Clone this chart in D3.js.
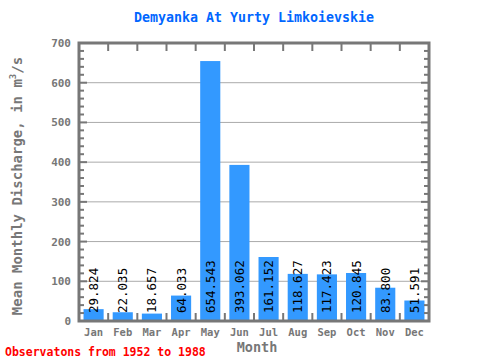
<!DOCTYPE html>
<html><head><meta charset="utf-8">
<script src="https://cdn.jsdelivr.net/npm/d3@7/dist/d3.min.js"></script>
<style>body{margin:0;background:#fff}svg{display:block}</style>
</head><body>
<svg id="c" width="480" height="360"></svg>
<script>
const months = ["Jan","Feb","Mar","Apr","May","Jun","Jul","Aug","Sep","Oct","Nov","Dec"];
const discharge = [29.824,22.035,18.657,64.033,654.543,393.062,161.152,118.627,117.423,120.845,83.800,51.591];
const labels = ["29.824","22.035","18.657","64.033","654.543","393.062","161.152","118.627","117.423","120.845","83.800","51.591"];
const yTicks = [0,100,200,300,400,500,600,700];
const titleText = "Demyanka At Yurty Limkoievskie";
const footText = "Observatons from 1952 to 1988";

const svg = d3.select("#c");
const L=79, R=429, T=43, B=321;
const mono = "'DejaVu Sans Mono','Liberation Mono',monospace";
const axisCol = "#777";

const x = d3.scaleBand().domain(months).range([L,R]).paddingInner(0.31).paddingOuter(0.155);
const y = d3.scaleLinear().domain([0,700]).range([B,T]);

// gridlines
svg.append("g").selectAll("line").data(yTicks.slice(1,-1)).join("line")
  .attr("x1",L).attr("x2",R).attr("y1",d=>y(d)).attr("y2",d=>y(d))
  .attr("stroke","#aaa").attr("stroke-width",1);

// bars
svg.append("g").selectAll("rect").data(discharge).join("rect")
  .attr("x",(d,i)=>x(months[i])).attr("width",x.bandwidth())
  .attr("y",d=>y(d)).attr("height",d=>B-y(d))
  .attr("fill","#3399ff");

// value labels
svg.append("g").selectAll("text").data(labels).join("text")
  .attr("transform",(d,i)=>`translate(${x(months[i])+x.bandwidth()/2+4.5},${B-8}) rotate(-90)`)
  .attr("font-family",mono).attr("font-size",12.5).attr("fill","#000")
  .text(d=>d);

// frame
svg.append("rect").attr("x",L).attr("y",T).attr("width",R-L).attr("height",B-T)
  .attr("fill","none").attr("stroke",axisCol).attr("stroke-width",3);

// minor/major y ticks both sides
const minor = d3.range(0,701,20);
const yt = svg.append("g").attr("stroke",axisCol).attr("stroke-width",2);
minor.forEach(v=>{
  const len = v%100===0 ? 8 : 5;
  yt.append("line").attr("x1",L).attr("x2",L+len).attr("y1",y(v)).attr("y2",y(v));
  yt.append("line").attr("x1",R).attr("x2",R-len).attr("y1",y(v)).attr("y2",y(v));
});
// x band boundary ticks
const bounds = d3.range(1,months.length).map(i=>x(months[i]) - x.step()*x.paddingInner()/2);
bounds.forEach(bx=>{
  yt.append("line").attr("x1",bx).attr("x2",bx).attr("y1",B).attr("y2",B-8);
  yt.append("line").attr("x1",bx).attr("x2",bx).attr("y1",T).attr("y2",T+8);
});

// y tick labels
const yAxis = d3.axisLeft(y).tickValues(yTicks).tickSize(0).tickPadding(8);
const ga = svg.append("g").attr("transform",`translate(${L},0)`).call(yAxis);
ga.select(".domain").remove();
ga.selectAll("text").attr("font-family",mono).attr("font-size",11).attr("font-weight","bold").attr("fill",axisCol);

// x tick labels
const xAxis = d3.axisBottom(x).tickSize(0).tickPadding(8);
const gx = svg.append("g").attr("transform",`translate(0,${B})`).call(xAxis);
gx.select(".domain").remove();
gx.selectAll("text").attr("font-family",mono).attr("font-size",10.5).attr("font-weight","bold").attr("fill",axisCol);

// title
svg.append("text").attr("x",254).attr("y",22).attr("text-anchor","middle")
  .attr("font-family",mono).attr("font-size",13.3).attr("font-weight","bold").attr("fill","#0066ff")
  .text(titleText);

// axis titles
svg.append("text").attr("x",257).attr("y",352).attr("text-anchor","middle")
  .attr("font-family",mono).attr("font-size",13.5).attr("font-weight","bold").attr("fill",axisCol)
  .text("Month");

const yl = svg.append("text").attr("transform",`translate(22,186) rotate(-90)`).attr("text-anchor","middle")
  .attr("font-family",mono).attr("font-size",14).attr("font-weight","bold").attr("fill",axisCol);
yl.append("tspan").text("Mean Monthly Discharge, in  m");
yl.append("tspan").attr("font-size",9).attr("dy",-6).text("3");
yl.append("tspan").attr("dy",6).text("/s");

// footnote
svg.append("text").attr("x",5).attr("y",356)
  .attr("font-family",mono).attr("font-size",11.5).attr("font-weight","bold").attr("fill","#ff0000")
  .text(footText);
</script>
</body></html>
